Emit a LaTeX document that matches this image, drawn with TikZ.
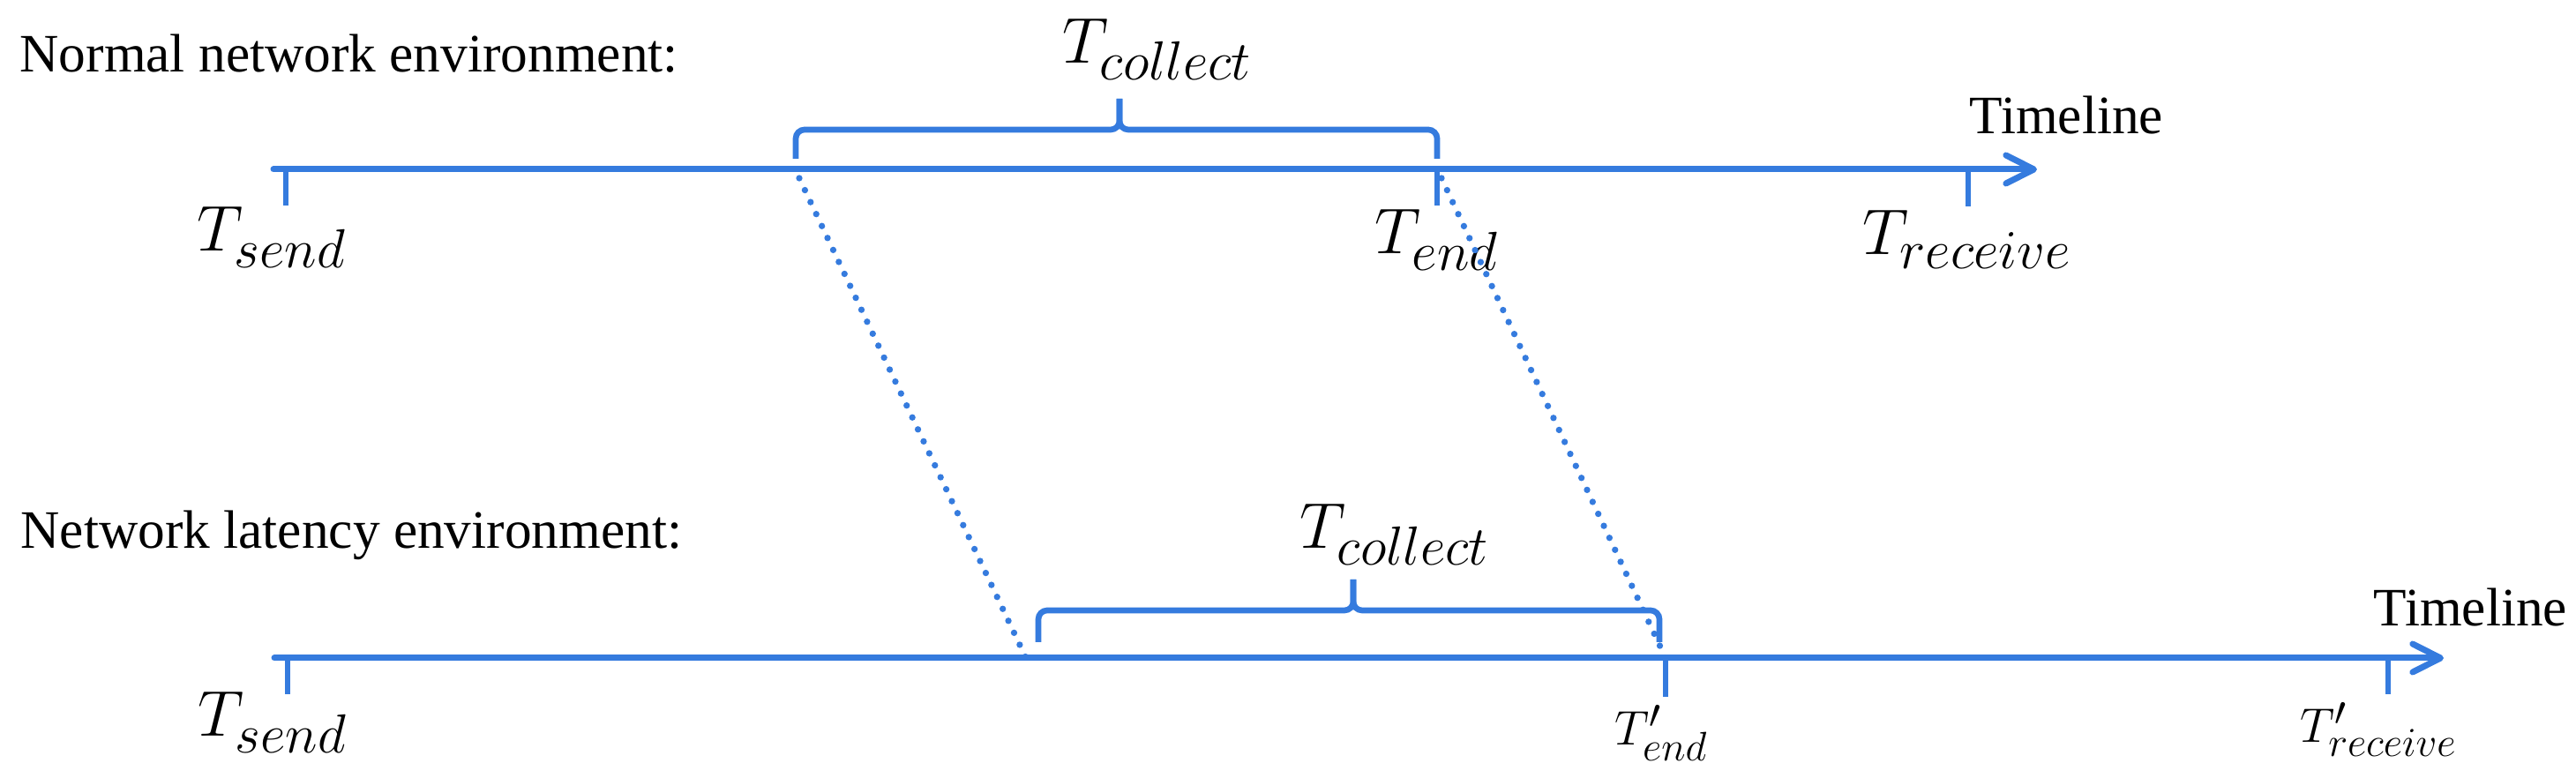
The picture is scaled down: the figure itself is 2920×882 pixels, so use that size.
\RequirePackage{fix-cm}
\documentclass[tikz,border=0pt]{standalone}
\usepackage{fontspec}
\setmainfont{Liberation Serif}
\DeclareMathSizes{22}{22}{18.7}{14}
\DeclareMathSizes{16.5}{16.5}{14}{11}
\usetikzlibrary{arrows.meta}
\definecolor{tl}{RGB}{53,123,222}
\tikzset{
  axis/.style={draw=tl, line width=2.1pt, line cap=round, -{Straight Barb[length=9.5pt,width=9.6pt,round]}},
  tickmark/.style={draw=tl, line width=1.8pt},
  bracestyle/.style={draw=tl, line width=2pt, rounded corners=3pt},
  dotline/.style={draw=tl, line width=2.2pt, line cap=round, dash pattern=on 0pt off 4.5pt},
  envlabel/.style={anchor=base west, inner sep=0pt, font=\rmfamily\fontsize{18.4}{22}\selectfont},
  tlabel/.style={anchor=base west, inner sep=0pt, font=\fontsize{22}{26}\selectfont},
  tlabelsmall/.style={anchor=base west, inner sep=0pt, font=\fontsize{16.5}{20}\selectfont},
}
\begin{document}
\begin{tikzpicture}[x=0.3pt,y=-0.3pt]
\useasboundingbox (0,0) rectangle (2920,882);
% ---------- top ----------
\node[envlabel] (env1) at (22,82) {Normal network environment:};
\coordinate (a1s) at (310,192);
\coordinate (a1e) at (2309,192);
\draw[axis] (a1s) -- (a1e);
\node[envlabel] (tl1) at (2232,152) {Timeline};
\coordinate (send1) at (324,192);
\coordinate (end1) at (1629,192);
\coordinate (recv1) at (2231,192);
\coordinate (bl1) at (902,192);
\draw[tickmark] (send1) -- ++(0,41);
\draw[tickmark] (end1) -- ++(0,41);
\draw[tickmark] (recv1) -- ++(0,42);
\node[tlabel] (Ts1) at (223,285) {$T_{send}$};
\node[tlabel] (Te1) at (1558,288) {$T_{end}$};
\node[tlabel] (Tr1) at (2111,289) {$T_{receive}$};
% brace top
\coordinate (tip1) at (1269,112);
\draw[bracestyle] (902,180) -- (902,147) -- (1269,147) -- (tip1);
\draw[bracestyle] (1629,180) -- (1629,147) -- (1269,147) -- (tip1);
\node[tlabel] (Tc1) at (1204,72) {$T_{collect}$};
% ---------- bottom ----------
\node[envlabel] (env2) at (23,622) {Network latency environment:};
\coordinate (a2s) at (311,746);
\coordinate (a2e) at (2770,746);
\draw[axis] (a2s) -- (a2e);
\node[envlabel] (tl2) at (2690,710) {Timeline};
\coordinate (send2) at (326,746);
\coordinate (end2) at (1888,746);
\coordinate (recv2) at (2707,746);
\coordinate (bl2) at (1163,746);
\draw[tickmark] (send2) -- ++(0,41);
\draw[tickmark] (end2) -- ++(0,44);
\draw[tickmark] (recv2) -- ++(0,41);
\node[tlabel] (Ts2) at (224,835) {$T_{send}$};
\node[tlabelsmall] (Te2) at (1830,845) {$T'_{end}$};
\node[tlabelsmall] (Tr2) at (2607,842) {$T'_{receive}$};
% brace bottom
\coordinate (tip2) at (1534,657);
\draw[bracestyle] (1177,728) -- (1177,692) -- (1534,692) -- (tip2);
\draw[bracestyle] (1881,728) -- (1881,692) -- (1534,692) -- (tip2);
\node[tlabel] (Tc2) at (1473,622) {$T_{collect}$};
% ---------- dotted mapping ----------
\draw[dotline] (bl1) ++(4,10) -- (bl2);
\draw[dotline] (end1) ++(5,10) -- (end2);
\end{tikzpicture}
\end{document}
